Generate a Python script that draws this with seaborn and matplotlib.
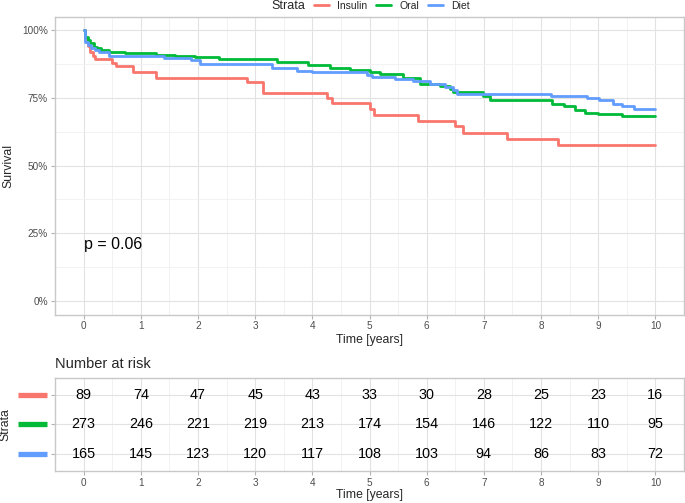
import numpy as np
import pandas as pd
import matplotlib
matplotlib.use("Agg")
import matplotlib.pyplot as plt
import matplotlib.transforms as mtransforms
from matplotlib.ticker import FuncFormatter, MultipleLocator
import seaborn as sns

# Kaplan-Meier step curves (time in years, survival fraction)
strata = ["Insulin", "Oral", "Diet"]
colors = ["#F8766D", "#00BA38", "#619CFF"]

insulin_t = [0, 0.02, 0.05, 0.08, 0.12, 0.17, 0.2, 0.5, 0.56, 0.87, 1.26, 2.86, 3.14,
             4.26, 4.35, 5.0, 5.07, 5.85, 6.49, 6.63, 7.4, 8.3, 10.0]
insulin_s = [1.0, 0.97, 0.955, 0.94, 0.92, 0.905, 0.893, 0.88, 0.867, 0.846, 0.822, 0.807, 0.77,
             0.751, 0.732, 0.71, 0.688, 0.665, 0.647, 0.621, 0.6, 0.577, 0.577]

oral_t = [0, 0.03, 0.07, 0.12, 0.18, 0.24, 0.3, 0.45, 0.73, 1.26, 1.6, 1.95, 2.36, 3.38,
          3.93, 4.31, 4.66, 5.01, 5.18, 5.59, 5.88, 6.23, 6.4, 6.46, 6.99, 7.1, 8.2, 8.41,
          8.59, 8.76, 8.99, 9.42, 10.0]
oral_s = [1.0, 0.976, 0.964, 0.952, 0.939, 0.933, 0.927, 0.92, 0.917, 0.908, 0.905, 0.9, 0.893, 0.884,
          0.871, 0.861, 0.852, 0.846, 0.84, 0.822, 0.803, 0.794, 0.784, 0.772, 0.757, 0.741, 0.729, 0.72,
          0.704, 0.695, 0.691, 0.683, 0.683]

diet_t = [0, 0.03, 0.07, 0.13, 0.2, 0.27, 0.44, 1.4, 1.87, 2.04, 3.3, 3.73, 3.99, 4.95, 5.04,
          5.44, 5.76, 6.06, 6.32, 6.46, 6.53, 8.18, 8.81, 9.02, 9.25, 9.42, 9.63, 10.0]
diet_s = [1.0, 0.958, 0.946, 0.933, 0.927, 0.921, 0.906, 0.899, 0.89, 0.874, 0.861, 0.85, 0.844, 0.834, 0.828,
          0.819, 0.812, 0.803, 0.791, 0.778, 0.766, 0.757, 0.75, 0.741, 0.729, 0.72, 0.71, 0.71]

# number at risk table
risk_times = list(range(11))
risk_insulin = [89, 74, 47, 45, 43, 33, 30, 28, 25, 23, 16]
risk_oral = [273, 246, 221, 219, 213, 174, 154, 146, 122, 110, 95]
risk_diet = [165, 145, 123, 120, 117, 108, 103, 94, 86, 83, 72]

pval_text = "p = 0.06"

surv = pd.concat([
    pd.DataFrame({"time": insulin_t, "surv": insulin_s, "strata": "Insulin"}),
    pd.DataFrame({"time": oral_t, "surv": oral_s, "strata": "Oral"}),
    pd.DataFrame({"time": diet_t, "surv": diet_s, "strata": "Diet"}),
])
risk = pd.DataFrame({"Insulin": risk_insulin, "Oral": risk_oral, "Diet": risk_diet}, index=risk_times)

sns.set_theme(style="white")
plt.rcParams["font.family"] = ["Liberation Sans", "DejaVu Sans"]

W, H = 685, 503
fig = plt.figure(figsize=(W / 100, H / 100), dpi=100)

major_c, minor_c, border_c, tick_c = "#E2E2E2", "#F0F0F0", "#C8C8C8", "#4D4D4D"


def style_axes(ax):
    for sp in ax.spines.values():
        sp.set_color(border_c)
        sp.set_linewidth(1.0)
    ax.set_xlim(-0.5, 10.5)
    ax.xaxis.set_major_locator(MultipleLocator(1))
    ax.xaxis.set_minor_locator(MultipleLocator(0.5))
    ax.grid(which="major", color=major_c, linewidth=0.8)
    ax.grid(which="minor", color=minor_c, linewidth=0.6)
    ax.set_axisbelow(True)
    ax.tick_params(which="major", bottom=True, left=True, length=3, width=0.8,
                   color="#B3B3B3", labelsize=7.2, labelcolor=tick_c, pad=2)
    ax.tick_params(which="minor", length=0)


# survival curves
ax = fig.add_axes([55 / W, 1 - 314.5 / H, 629 / W, (314.5 - 16.7) / H])
sns.lineplot(data=surv, x="time", y="surv", hue="strata", hue_order=strata,
             palette=colors, drawstyle="steps-post", estimator=None, linewidth=2.0,
             ax=ax)
style_axes(ax)
ax.set_ylim(-0.05, 1.05)
ax.yaxis.set_major_locator(MultipleLocator(0.25))
ax.yaxis.set_minor_locator(MultipleLocator(0.125))
ax.yaxis.set_major_formatter(FuncFormatter(lambda v, _: f"{v * 100:.0f}%"))
ax.set_xlabel("Time [years]", fontsize=8.8)
ax.set_ylabel("Survival", fontsize=8.8)
ax.xaxis.set_label_coords(0.5, (314.5 - 340) / 297.8)
ax.xaxis.label.set_va("center")
ax.yaxis.set_label_coords((8 - 55) / 629, 0.5)
ax.yaxis.label.set_va("center")
ax.text(0, 0.208, pval_text, fontsize=11.5, va="center", ha="left", color="black")

handles, labels = ax.get_legend_handles_labels()
ax.legend_.remove()
fig.legend(handles, labels, loc="center", bbox_to_anchor=(392 / W, 1 - 6 / H), ncol=3,
           frameon=False, fontsize=7.5, handlelength=1.4, handletextpad=0.8,
           columnspacing=0.9, borderpad=0)
fig.text(288 / W, 1 - 6 / H, "Strata", fontsize=9, ha="center", va="center")

# risk table
ax2 = fig.add_axes([55 / W, 1 - 471 / H, 629 / W, (471 - 377.7) / H])
style_axes(ax2)
ax2.set_ylim(2.6, -0.6)
ax2.set_yticks(range(len(strata)))
ax2.set_yticklabels([""] * len(strata))
for i, name in enumerate(strata):
    for t in risk.index:
        ax2.text(t, i, str(risk.loc[t, name]), ha="center", va="center",
                 fontsize=10.4, color="black")
trans = mtransforms.blended_transform_factory(ax2.transAxes, ax2.transData)
for i, c in enumerate(colors):
    ax2.plot([(18 - 55) / 629, (47 - 55) / 629], [i, i], color=c, linewidth=3.8,
             solid_capstyle="butt", transform=trans, clip_on=False)
ax2.set_xlabel("Time [years]", fontsize=8.8)
ax2.set_ylabel("Strata", fontsize=8.8)
ax2.xaxis.set_label_coords(0.5, (471 - 495) / 93.3)
ax2.xaxis.label.set_va("center")
ax2.yaxis.set_label_coords((5.7 - 55) / 629, 0.5)
ax2.yaxis.label.set_va("center")
ax2.text(0, 1 + (377.7 - 364) / 93.3, "Number at risk", transform=ax2.transAxes,
         fontsize=10.5, ha="left", va="center")

fig.savefig("out.png", dpi=100)
